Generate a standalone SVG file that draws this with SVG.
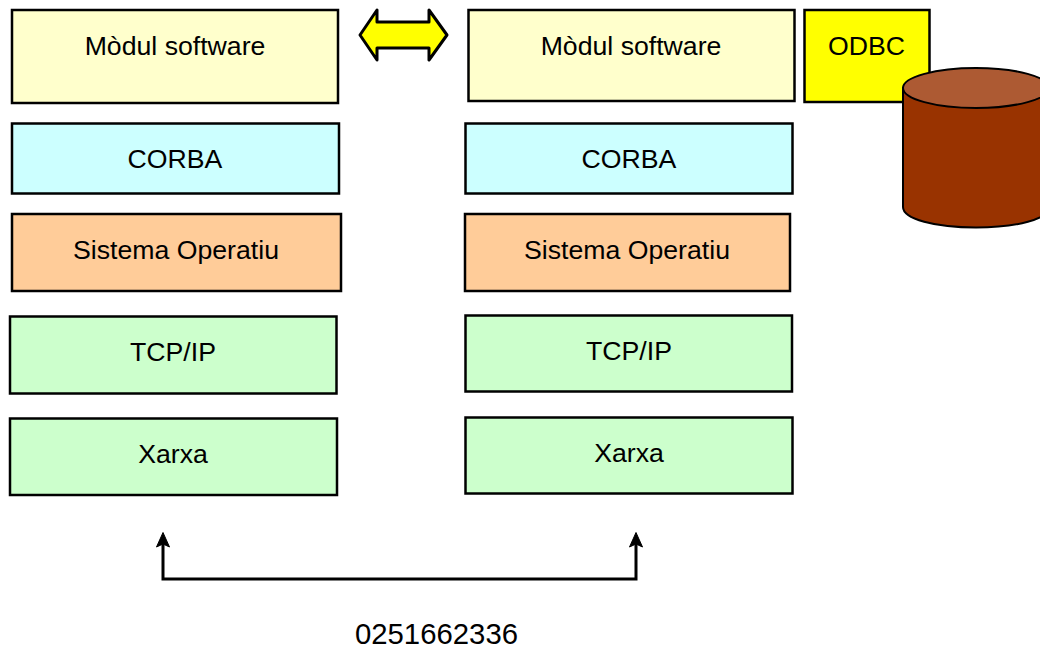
<svg xmlns="http://www.w3.org/2000/svg" width="1040" height="645" viewBox="0 0 1040 645">
<style>
.b{stroke:#000;stroke-width:2.5}
text{font-family:"Liberation Sans",Arial,sans-serif;font-size:26.67px;fill:#000;text-anchor:middle}
.conn{fill:none;stroke:#000;stroke-width:3}
</style>
<rect width="1040" height="645" fill="#fff"/>
<g id="m1"><rect class="b" x="12" y="10" width="326" height="93" fill="#ffffcc"/><text x="175" y="55">Mòdul software</text></g>
<g id="m2"><rect class="b" x="468.500" y="10" width="326" height="91" fill="#ffffcc"/><text x="631" y="55">Mòdul software</text></g>
<g id="odbc"><rect class="b" x="804.500" y="10" width="125" height="92" fill="#ffff00"/><text x="866.500" y="55">ODBC</text></g>
<g id="c1"><rect class="b" x="12" y="123.500" width="327" height="70" fill="#ccffff"/><text x="175" y="168">CORBA</text></g>
<g id="c2"><rect class="b" x="465.500" y="123.500" width="327" height="70" fill="#ccffff"/><text x="629" y="167.500">CORBA</text></g>
<g id="s1"><rect class="b" x="12" y="214" width="329" height="77" fill="#ffcc99"/><text x="176" y="259">Sistema Operatiu</text></g>
<g id="s2"><rect class="b" x="465" y="214" width="325" height="77" fill="#ffcc99"/><text x="627" y="259">Sistema Operatiu</text></g>
<g id="t1"><rect class="b" x="10" y="316.500" width="326.500" height="77" fill="#ccffcc"/><text x="173" y="361">TCP/IP</text></g>
<g id="t2"><rect class="b" x="465.500" y="315.500" width="326.500" height="76" fill="#ccffcc"/><text x="629" y="359.500">TCP/IP</text></g>
<g id="x1"><rect class="b" x="10" y="418.500" width="327" height="76.500" fill="#ccffcc"/><text x="173" y="463">Xarxa</text></g>
<g id="x2"><rect class="b" x="465.500" y="417.500" width="327" height="76" fill="#ccffcc"/><text x="629" y="462">Xarxa</text></g>
<g id="db">
<path d="M903 88V207C903 219 935 227.500 976 227.500S1049 219 1049 207V88Z" fill="#993300" stroke="#000" stroke-width="2"/>
<ellipse cx="976" cy="88" rx="73" ry="20" fill="#ad5a33" stroke="#000" stroke-width="2"/>
</g>
<g id="connectors">
<path d="M360 35L377 10V22H429V10L447 35L429 60V48H377V60Z" fill="#ffff00" stroke="#000" stroke-width="3" stroke-linejoin="round"/>
<path class="conn" d="M163 544V579H636V544"/>
<path d="M163 532.500L156.500 547L163 544L169.500 547Z M636 532.500L629.500 547L636 544L642.500 547Z" fill="#000" stroke="#000" stroke-width="1"/>
</g>
<g id="caption"><text x="436.500" y="644" style="font-size:29.33px">0251662336</text></g>
</svg>
